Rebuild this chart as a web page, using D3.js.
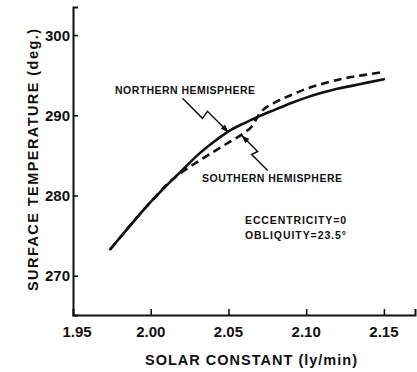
<!DOCTYPE html>
<html>
<head>
<meta charset="utf-8">
<script src="https://cdn.jsdelivr.net/npm/d3@7"></script>
<style>
  html, body { margin: 0; padding: 0; background: #fff; }
  svg { display: block; }
  text { font-family: "Liberation Sans", Arial, sans-serif; font-weight: bold; fill: #111; }
</style>
</head>
<body>
<svg id="chart" width="417" height="372"></svg>
<script>
// Solar constant (ly/min) sample points
const solarConstant = [1.974, 1.98, 1.99, 2.00, 2.01, 2.02, 2.03, 2.04, 2.05, 2.06,
                       2.065, 2.07, 2.08, 2.09, 2.10, 2.11, 2.12, 2.13, 2.14, 2.15];
// Mean surface temperature (deg.) for each hemisphere
const northernTemp = [273.3, 274.7, 277.0, 279.2, 281.2, 283.1, 285.0, 286.6, 288.0, 289.0,
                      289.45, 289.9, 290.7, 291.5, 292.2, 292.8, 293.3, 293.7, 294.1, 294.5];
const southernTemp = [273.3, 274.7, 277.0, 279.2, 281.3, 282.9, 284.2, 285.4, 286.6, 287.8,
                      288.6, 290.2, 291.6, 292.5, 293.3, 293.9, 294.4, 294.8, 295.1, 295.4];
const xTicks = [1.95, 2.00, 2.05, 2.10, 2.15];
const yTicks = [270, 280, 290, 300];

const svg = d3.select("#chart");
const ink = "#111";

const x = d3.scaleLinear().domain([1.95, 2.17]).range([73, 415]);
const y = d3.scaleLinear().domain([265.1, 303.5]).range([315, 7]);

// Axes: ticks point inward, labels drawn separately
const xAxis = svg.append("g").attr("transform", `translate(0,${y(265.1)})`)
  .call(d3.axisBottom(x).tickValues(xTicks.slice(1)).tickSize(-6).tickFormat(""));
const yAxis = svg.append("g").attr("transform", `translate(${x(1.95)},0)`)
  .call(d3.axisLeft(y).tickValues(yTicks).tickSize(-5).tickFormat(""));
[xAxis, yAxis].forEach(g => {
  g.select(".domain").attr("stroke", ink).attr("stroke-width", 2);
  g.selectAll(".tick line").attr("stroke", ink).attr("stroke-width", 1.6);
});

// Tick labels
svg.append("g").selectAll("text").data(xTicks).join("text")
  .attr("x", d => x(d) + (d === 1.95 ? 4 : 0))
  .attr("y", 337)
  .attr("text-anchor", "middle")
  .attr("font-size", 15)
  .text(d => d.toFixed(2));
svg.append("g").selectAll("text").data(yTicks).join("text")
  .attr("x", 70)
  .attr("y", d => y(d) + 5.5)
  .attr("text-anchor", "end")
  .attr("font-size", 15)
  .text(d => d);

// Axis titles
svg.append("text")
  .attr("x", 251).attr("y", 365)
  .attr("text-anchor", "middle")
  .attr("font-size", 14.5)
  .attr("textLength", 212).attr("lengthAdjust", "spacing")
  .text("SOLAR CONSTANT  (ly/min)");
svg.append("text")
  .attr("transform", "translate(38,160) rotate(-90)")
  .attr("text-anchor", "middle")
  .attr("font-size", 14.5)
  .attr("textLength", 262).attr("lengthAdjust", "spacing")
  .text("SURFACE TEMPERATURE (deg.)");

// Curves
const line = series => d3.line()
  .x((d, i) => x(solarConstant[i]))
  .y(d => y(d))
  .curve(d3.curveMonotoneX)(series);

svg.append("path").attr("d", line(northernTemp))
  .attr("fill", "none").attr("stroke", ink).attr("stroke-width", 2.6)
  .attr("stroke-linecap", "round");
svg.append("path").attr("d", line(southernTemp))
  .attr("fill", "none").attr("stroke", ink).attr("stroke-width", 2.6)
  .attr("stroke-dasharray", "8,5");

// Zig-zag leader arrows pointing at each curve
function leader(tip, pts) {
  const p = pts.map(([dx, dy]) => [tip[0] + dx, tip[1] + dy]);
  p.push(tip);
  svg.append("path").attr("d", d3.line()(p))
    .attr("fill", "none").attr("stroke", ink).attr("stroke-width", 1.5);
  const [ax, ay] = p[p.length - 2];
  const ang = Math.atan2(tip[1] - ay, tip[0] - ax);
  const L = 8, W = 3;
  const bx = tip[0] - L * Math.cos(ang), by = tip[1] - L * Math.sin(ang);
  const nx = -Math.sin(ang) * W, ny = Math.cos(ang) * W;
  svg.append("path")
    .attr("d", `M${tip[0]},${tip[1]}L${bx + nx},${by + ny}L${bx - nx},${by - ny}Z`)
    .attr("fill", ink);
}
leader([x(2.05), y(288.0) + 1], [[-46, -34], [-26, -14], [-21, -21]]);
leader([x(2.0585), y(287.6) + 1], [[26, 35], [10, 19], [16, 16]]);

// Annotations
const notes = [
  { t: "NORTHERN HEMISPHERE", x: 115, y: 94, w: 140 },
  { t: "SOUTHERN HEMISPHERE", x: 202, y: 182, w: 140 },
  { t: "ECCENTRICITY=0", x: 245, y: 224, w: 101 },
  { t: "OBLIQUITY=23.5°", x: 245, y: 239, w: 101 }
];
svg.append("g").selectAll("text").data(notes).join("text")
  .attr("x", d => d.x).attr("y", d => d.y)
  .attr("font-size", 10.5)
  .attr("textLength", d => d.w).attr("lengthAdjust", "spacing")
  .text(d => d.t);
</script>
</body>
</html>
